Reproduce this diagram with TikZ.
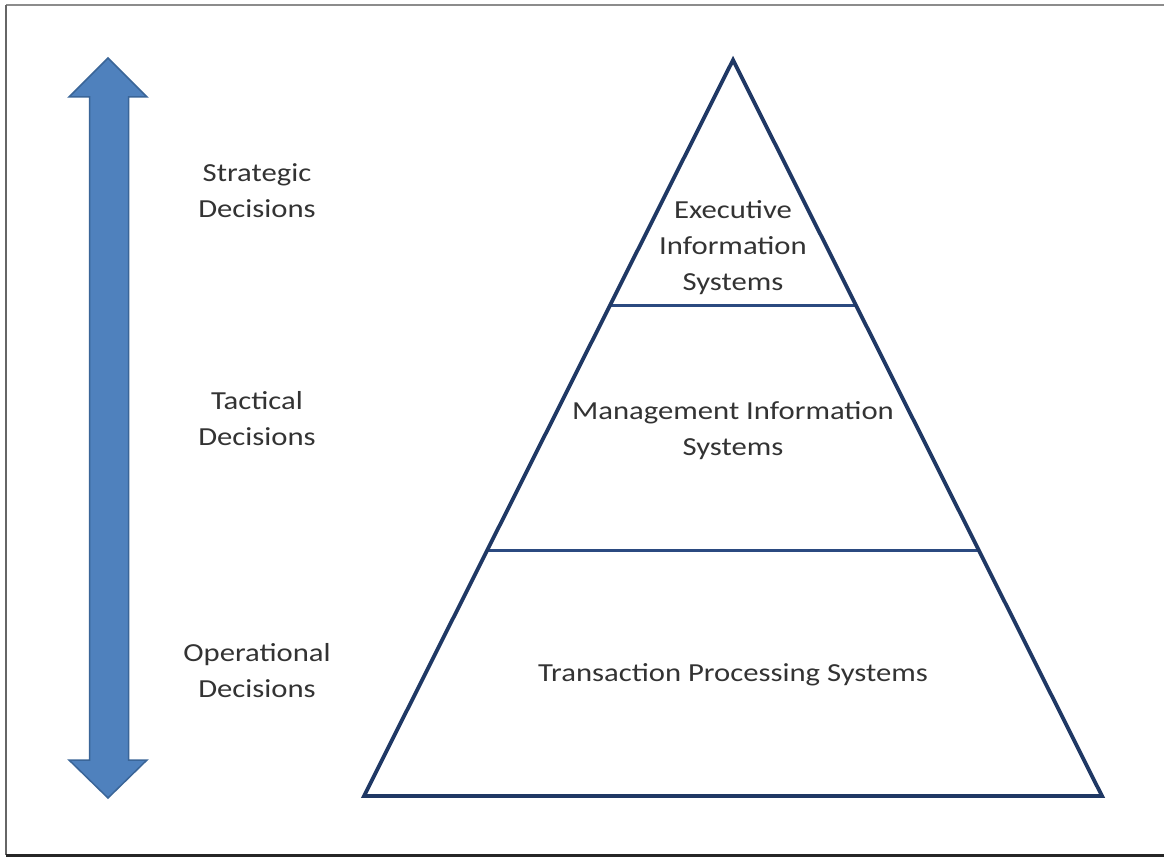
\documentclass[tikz,border=0pt]{standalone}
\usepackage{fontspec}
\setmainfont[FakeStretch=1.18]{Carlito}
\usetikzlibrary{calc}
\definecolor{arrowfill}{HTML}{4F81BD}
\definecolor{arrowline}{HTML}{3A6598}
\definecolor{pyrline}{HTML}{1F3864}
\definecolor{divline}{HTML}{2B4A80}
\definecolor{txt}{HTML}{333333}
\tikzset{
  lbl/.style={font=\fontsize{26}{36}\selectfont, text=txt, align=center, inner sep=0pt},
}
\begin{document}
\begin{tikzpicture}[x=1pt,y=-1pt]
\useasboundingbox (0,0) rectangle (1164,866);
\fill[white] (0,0) rectangle (1164,866);
% frame
\draw[line width=1.5pt, black!45] (6,5) -- (1170,5);
\draw[line width=2pt, black!60] (6,5) -- (6,855);
\draw[line width=3pt, black!85] (6,855) -- (1170,855);
% double arrow
\draw[fill=arrowfill, draw=arrowline, line width=1.5pt, line join=miter]
  (108,58) -- (147,97) -- (128.5,97) -- (128.5,760) -- (147,760) -- (108,798)
  -- (69,760) -- (89.5,760) -- (89.5,97) -- (69,97) -- cycle;
% pyramid
\coordinate (apex) at (733,60);
\coordinate (bl) at (364,796);
\coordinate (br) at (1102,796);
\coordinate (d1l) at ($(apex)!0.3333!(bl)$);
\coordinate (d1r) at ($(apex)!0.3333!(br)$);
\coordinate (d2l) at ($(apex)!0.6667!(bl)$);
\coordinate (d2r) at ($(apex)!0.6667!(br)$);
\draw[divline, line width=2.5pt] (d1l) -- (d1r);
\draw[divline, line width=2.5pt] (d2l) -- (d2r);
\draw[pyrline, line width=3.8pt, line join=miter] (apex) -- (br) -- (bl) -- cycle;
% pyramid texts
\node[lbl] (eis) at (733,247.5) {Executive\\Information\\Systems};
\node[lbl] (mis) at (733,431) {Management Information\\Systems};
\node[lbl] (tps) at (733,675) {Transaction Processing Systems};
% left labels
\node[lbl] (sd) at (257,191) {Strategic\\Decisions};
\node[lbl] (td) at (257,419) {Tactical\\Decisions};
\node[lbl] (od) at (257,671) {Operational\\Decisions};
\end{tikzpicture}
\end{document}
